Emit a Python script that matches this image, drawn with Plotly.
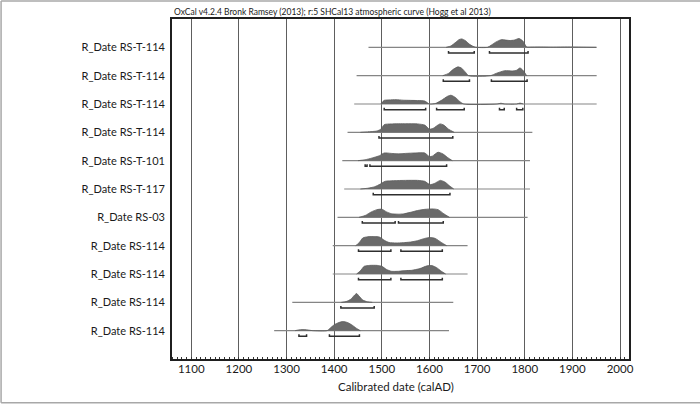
import plotly.graph_objects as go

# OxCal multiplot: calibrated radiocarbon dates, top row first
labels = [
    "R_Date RS-T-114", "R_Date RS-T-114", "R_Date RS-T-114", "R_Date RS-T-114",
    "R_Date RS-T-101", "R_Date RS-T-117", "R_Date RS-03",
    "R_Date RS-114", "R_Date RS-114", "R_Date RS-114", "R_Date RS-114",
]

# extent of the thin line under each distribution (calAD)
line_start = [1472, 1447, 1442, 1428, 1417, 1421, 1407, 1397, 1397, 1312, 1274]
line_end = [1951, 1951, 1951, 1816, 1811, 1811, 1806, 1680, 1680, 1650, 1641]

# probability distributions (relative height, 1 = row max)
dist_years = [
    [1635, 1645, 1655, 1662, 1668, 1675, 1685, 1696, 1722, 1730, 1740, 1751, 1760, 1769,
     1778, 1788, 1796, 1804, 1812, 1830, 1860, 1890, 1920, 1950],
    [1628, 1640, 1650, 1660, 1668, 1676, 1682, 1728, 1740, 1758, 1775, 1783, 1790, 1797, 1804],
    [1498, 1505, 1515, 1530, 1545, 1560, 1575, 1590, 1600, 1612, 1625, 1638, 1645, 1655,
     1663, 1672, 1742, 1750, 1758, 1783, 1790, 1797],
    [1455, 1470, 1490, 1498, 1505, 1520, 1550, 1575, 1590, 1600, 1608, 1622, 1630, 1640, 1652],
    [1450, 1465, 1480, 1495, 1505, 1520, 1535, 1550, 1570, 1590, 1600, 1606, 1618, 1628, 1638, 1648],
    [1455, 1470, 1485, 1497, 1507, 1525, 1550, 1575, 1590, 1601, 1610, 1623, 1633, 1642, 1651],
    [1452, 1465, 1478, 1490, 1500, 1510, 1520, 1535, 1545, 1560, 1575, 1590, 1605, 1618, 1630, 1642],
    [1445, 1452, 1460, 1470, 1485, 1495, 1505, 1515, 1530, 1545, 1560, 1575, 1590, 1602,
     1612, 1625, 1636],
    [1447, 1455, 1463, 1475, 1490, 1500, 1510, 1520, 1535, 1550, 1562, 1580, 1595, 1605,
     1615, 1625, 1634],
    [1415, 1425, 1435, 1442, 1447, 1452, 1460, 1470, 1480],
    [1318, 1325, 1335, 1348, 1355, 1385, 1392, 1400, 1410, 1418, 1428, 1438, 1447, 1455],
]
dist_prob = [
    [0, 0.15, 0.55, 0.85, 0.93, 0.75, 0.3, 0.02, 0, 0.25, 0.6, 0.85, 0.8, 0.75,
     0.8, 0.97, 0.7, 0.05, 0.03, 0.04, 0.02, 0.04, 0.02, 0],
    [0, 0.25, 0.7, 0.97, 0.8, 0.35, 0, 0, 0.25, 0.55, 0.52, 0.6, 0.85, 0.55, 0],
    [0, 0.4, 0.45, 0.48, 0.42, 0.4, 0.38, 0.33, 0, 0.05, 0.4, 0.85, 0.97, 0.7,
     0.3, 0, 0, 0.08, 0, 0, 0.1, 0],
    [0, 0.05, 0.15, 0.35, 0.85, 0.93, 0.95, 0.93, 0.8, 0.35, 0.45, 0.93, 0.8, 0.35, 0],
    [0, 0.1, 0.3, 0.55, 0.85, 0.8, 0.75, 0.8, 0.85, 0.85, 0.45, 0.5, 0.93, 0.75, 0.35, 0],
    [0, 0.08, 0.25, 0.55, 0.85, 0.92, 0.95, 0.95, 0.85, 0.48, 0.6, 0.95, 0.75, 0.35, 0],
    [0, 0.2, 0.6, 0.85, 0.9, 0.6, 0.4, 0.35, 0.38, 0.55, 0.75, 0.88, 0.93, 0.85, 0.4, 0],
    [0, 0.3, 0.85, 0.98, 1.0, 0.95, 0.6, 0.35, 0.3, 0.33, 0.4, 0.55, 0.8, 0.9,
     0.8, 0.35, 0],
    [0, 0.35, 0.85, 0.95, 0.95, 0.85, 0.5, 0.3, 0.3, 0.38, 0.4, 0.6, 0.9, 0.93,
     0.7, 0.3, 0],
    [0, 0.08, 0.35, 0.75, 0.97, 0.7, 0.25, 0.06, 0],
    [0, 0.08, 0.12, 0.05, 0, 0, 0.3, 0.65, 0.9, 1.0, 0.9, 0.6, 0.25, 0],
]

# 95.4% highest posterior density ranges drawn as brackets
hpd_ranges = [
    [(1640, 1694), (1726, 1807)],
    [(1629, 1684), (1730, 1805)],
    [(1505, 1592), (1615, 1673), (1747, 1757), (1783, 1796)],
    [(1494, 1649)],
    [(1465, 1469), (1475, 1636)],
    [(1482, 1643)],
    [(1459, 1528), (1535, 1629)],
    [(1451, 1519), (1540, 1627)],
    [(1451, 1519), (1540, 1627)],
    [(1414, 1484)],
    [(1326, 1342), (1390, 1453)],
]

x_ticks = [1100, 1200, 1300, 1400, 1500, 1600, 1700, 1800, 1900, 2000]

FONT = "Lato"
PEAK = 0.32          # row height used by a distribution of relative height 1
n = len(labels)
rows = list(range(n, 0, -1))   # baseline y for each row

fig = go.Figure()

# thin lines
lx, ly = [], []
for base, a, b in zip(rows, line_start, line_end):
    lx += [a, b, None]
    ly += [base, base, None]
fig.add_trace(go.Scatter(x=lx, y=ly, mode="lines", line=dict(color="#858585", width=1.2),
                         hoverinfo="skip"))

# distributions
for base, yrs, p in zip(rows, dist_years, dist_prob):
    fig.add_trace(go.Scatter(
        x=yrs, y=[base + v * PEAK for v in p], mode="lines",
        line=dict(color="#5a5a5a", width=0.8, shape="spline", smoothing=0.6),
        fill="toself", fillcolor="#6a6a6a", hoverinfo="skip"))

# brackets
bx, by = [], []
for base, ranges in zip(rows, hpd_ranges):
    for a, b in ranges:
        bx += [a, a, b, b, None]
        by += [base - 0.13, base - 0.2, base - 0.2, base - 0.13, None]
fig.add_trace(go.Scatter(x=bx, y=by, mode="lines", line=dict(color="#2e2e2e", width=1.5),
                         hoverinfo="skip"))

fig.update_layout(
    width=700, height=404,
    margin=dict(l=172, r=71, t=19, b=45),
    paper_bgcolor="white", plot_bgcolor="white",
    showlegend=False,
    font=dict(family=FONT, color="#1a1a1a"),
)
fig.update_xaxes(
    range=[1059.5, 2018.9], tickvals=x_ticks, ticks="",
    showgrid=True, gridcolor="#5e5e5e", gridwidth=1,
    showline=True, mirror=True, linecolor="#1f1f1f", linewidth=1.6,
    zeroline=False, tickfont=dict(size=11.5), ticklabelstandoff=-2,
    minor=dict(dtick=10, tick0=1100, ticks="inside", ticklen=2.5,
               tickcolor="#333", tickwidth=1, showgrid=False),
)
fig.update_yaxes(
    range=[0, n + 1], tickvals=rows, ticktext=labels, ticks="",
    showgrid=False, zeroline=False,
    showline=True, mirror=True, linecolor="#1f1f1f", linewidth=1.6,
    tickfont=dict(size=11), ticklabelstandoff=3,
)

fig.add_annotation(
    text="OxCal v4.2.4 Bronk Ramsey (2013); r:5 SHCal13 atmospheric curve (Hogg et al 2013)",
    xref="paper", yref="paper", x=0, y=1, xanchor="left", yanchor="bottom",
    yshift=0, showarrow=False, font=dict(size=8.5, family=FONT))
fig.add_annotation(
    text="Calibrated date (calAD)", xref="paper", yref="paper", x=0.49, y=-0.082,
    xanchor="center", yanchor="middle", showarrow=False, font=dict(size=11.5, family=FONT))

# light grey frame around the whole picture
for x0, y0, x1, y1 in [(-0.374, 1.053, 1.2, 1.053), (-0.374, -0.129, 1.2, -0.129),
                       (-0.374, -0.129, -0.374, 1.053)]:
    fig.add_shape(type="line", xref="paper", yref="paper", x0=x0, y0=y0, x1=x1, y1=y1,
                  line=dict(color="#a8a8a8", width=1.5))

fig.write_html("out.html", config={"displayModeBar": False},
               post_script="document.body.style.margin='0';")
